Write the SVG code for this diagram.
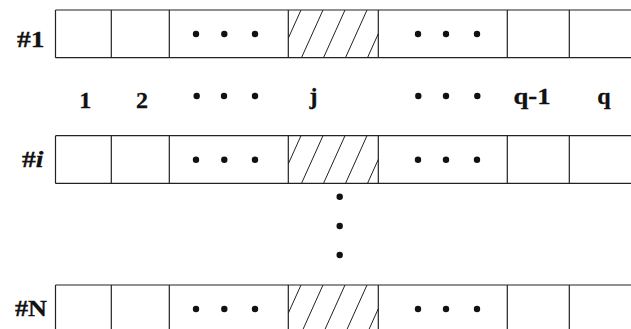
<svg xmlns="http://www.w3.org/2000/svg" xmlns:xlink="http://www.w3.org/1999/xlink" width="631" height="329" viewBox="0 0 631 329">
<style>
.ln{stroke:#222;stroke-width:1.2;fill:none}
.ht{stroke:#222;stroke-width:1;fill:none}
.dot{fill:#111}
.lbl{font-family:"Liberation Serif","Times New Roman",serif;font-weight:bold;font-size:24px;fill:#111;stroke:#111;stroke-width:0.3}
</style>
<defs>
<g id="rowShape">
<path class="ln" d="M55.5 0H631M55.5 47.7H631M55.5 0V47.7M111.3 0V47.7M169.3 0V47.7M288.3 0V47.7M378.3 0V47.7M507.3 0V47.7M569.3 0V47.7"/>
<path class="ht" d="M301 0L288.3 28.2M323 0L301.5 47.7M345 0L323.5 47.7M367 0L345.5 47.7M378.3 23.7L367.5 47.7"/>
<circle class="dot" cx="196" cy="24" r="3.2"/>
<circle class="dot" cx="224.3" cy="24" r="3.2"/>
<circle class="dot" cx="255" cy="24" r="3.2"/>
<circle class="dot" cx="418" cy="24" r="3.2"/>
<circle class="dot" cx="446" cy="24" r="3.2"/>
<circle class="dot" cx="477" cy="24" r="3.2"/>
</g>
</defs>
<g id="row-1">
<use xlink:href="#rowShape" transform="translate(0,10)"/>
<text class="lbl" x="17" y="47" textLength="27.5" lengthAdjust="spacingAndGlyphs">#1</text>
</g>
<g id="row-i">
<use xlink:href="#rowShape" transform="translate(0,135.7)"/>
<text class="lbl" x="22" y="167" textLength="21.5" lengthAdjust="spacingAndGlyphs">#<tspan font-style="italic">i</tspan></text>
</g>
<g id="row-N">
<use xlink:href="#rowShape" transform="translate(0,285)"/>
<text class="lbl" x="15" y="316" textLength="32" lengthAdjust="spacingAndGlyphs">#N</text>
</g>
<g id="column-labels">
<text class="lbl" x="85.3" y="108" text-anchor="middle">1</text>
<text class="lbl" x="142" y="108" text-anchor="middle">2</text>
<circle class="dot" cx="196.7" cy="96" r="3.2"/>
<circle class="dot" cx="224" cy="96" r="3.2"/>
<circle class="dot" cx="255" cy="96" r="3.2"/>
<text class="lbl" x="313.5" y="104" text-anchor="middle">j</text>
<circle class="dot" cx="418.3" cy="96" r="3.2"/>
<circle class="dot" cx="446" cy="96" r="3.2"/>
<circle class="dot" cx="477.3" cy="96" r="3.2"/>
<text class="lbl" x="532" y="104" text-anchor="middle" textLength="37" lengthAdjust="spacingAndGlyphs">q-1</text>
<text class="lbl" x="604" y="104" text-anchor="middle">q</text>
</g>
<g id="vertical-dots">
<circle class="dot" cx="339.7" cy="196.7" r="3.2"/>
<circle class="dot" cx="339.7" cy="226" r="3.2"/>
<circle class="dot" cx="339.7" cy="255" r="3.2"/>
</g>
</svg>
